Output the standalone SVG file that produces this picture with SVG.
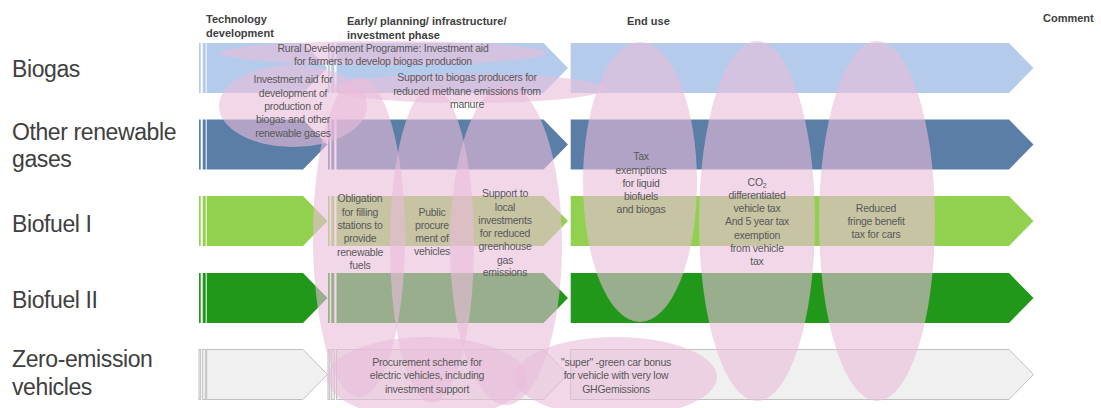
<svg xmlns="http://www.w3.org/2000/svg" xmlns:xlink="http://www.w3.org/1999/xlink" width="1101" height="408" viewBox="0 0 1101 408">
<style>
  .row-label { font-family: "Liberation Sans", Arial, sans-serif; font-size: 23px; fill: #404040; letter-spacing: -0.4px; }
  .hdr { font-family: "Liberation Sans", Arial, sans-serif; font-size: 11px; font-weight: bold; fill: #404040; }
  .txt { font-family: "Liberation Sans", Arial, sans-serif; font-size: 10.5px; fill: #595959; letter-spacing: -0.25px; text-anchor: middle; }
  .ell { fill: #e9bdda; opacity: 0.6; }
  .c-biogas { fill: #b5cbec; }
  .c-other { fill: #5a7ea6; }
  .c-bio1 { fill: #92d050; }
  .c-bio2 { fill: #22981b; }
  .c-zero { fill: #f0f0f0; stroke: #c0c0c0; stroke-width: 1; }
</style>
<defs>
  <g id="seg1"><rect x="199" y="0" width="1.7" height="50"/><rect x="202.7" y="0" width="3" height="50"/><path d="M206.7 0H303L327.5 25L303 50H206.7Z"/></g>
  <g id="seg2"><rect x="328" y="0" width="1.7" height="50"/><rect x="331.3" y="0" width="3" height="50"/><path d="M336.5 0H543.5L568 25L543.5 50H336.5Z"/></g>
  <g id="seg3"><path d="M570.7 0H1009L1033.5 25L1009 50H570.7Z"/></g>
</defs>
<rect width="1101" height="408" fill="#ffffff"/>

<g id="headers">
  <text class="hdr" x="206" y="23">Technology</text>
  <text class="hdr" x="206" y="36.5">development</text>
  <text class="hdr" x="347" y="25">Early/ planning/ infrastructure/</text>
  <text class="hdr" x="347" y="38.5">investment phase</text>
  <text class="hdr" x="627" y="25">End use</text>
  <text class="hdr" x="1043" y="22">Comment</text>
</g>

<g id="row-biogas">
  <text class="row-label" x="12" y="77">Biogas</text>
  <use href="#seg1" y="43" class="c-biogas"/>
  <use href="#seg2" y="43" class="c-biogas"/>
  <use href="#seg3" y="43" class="c-biogas"/>
</g>
<g id="row-other">
  <text class="row-label" x="12" y="140">Other renewable</text>
  <text class="row-label" x="12" y="167">gases</text>
  <use href="#seg1" y="119.5" class="c-other"/>
  <use href="#seg2" y="119.5" class="c-other"/>
  <use href="#seg3" y="119.5" class="c-other"/>
</g>
<g id="row-biofuel1">
  <text class="row-label" x="12" y="232">Biofuel I</text>
  <use href="#seg1" y="196" class="c-bio1"/>
  <use href="#seg2" y="196" class="c-bio1"/>
  <use href="#seg3" y="196" class="c-bio1"/>
</g>
<g id="row-biofuel2">
  <text class="row-label" x="12" y="308">Biofuel II</text>
  <use href="#seg1" y="273" class="c-bio2"/>
  <use href="#seg2" y="273" class="c-bio2"/>
  <use href="#seg3" y="273" class="c-bio2"/>
</g>
<g id="row-zero">
  <text class="row-label" x="12" y="367">Zero-emission</text>
  <text class="row-label" x="12" y="395">vehicles</text>
  <use href="#seg1" y="349.5" class="c-zero"/>
  <use href="#seg2" y="349.5" class="c-zero"/>
  <use href="#seg3" y="349.5" class="c-zero"/>
</g>

<g id="policy-shapes">
  <ellipse class="ell" cx="383" cy="53" rx="163" ry="12"/>
  <ellipse class="ell" cx="293" cy="106" rx="74" ry="41"/>
  <ellipse class="ell" cx="468" cy="88.5" rx="138" ry="14.5"/>
  <ellipse class="ell" cx="359" cy="237" rx="46" ry="160"/>
  <ellipse class="ell" cx="432" cy="245" rx="42" ry="158"/>
  <ellipse class="ell" cx="506" cy="245" rx="56" ry="160"/>
  <ellipse class="ell" cx="640" cy="182" rx="57" ry="140"/>
  <ellipse class="ell" cx="757" cy="221" rx="58" ry="180"/>
  <ellipse class="ell" cx="877" cy="221" rx="58" ry="180"/>
  <ellipse class="ell" cx="427" cy="378" rx="100" ry="41"/>
  <ellipse class="ell" cx="616" cy="377" rx="101" ry="40"/>
</g>

<g id="p-rural">
  <text class="txt" x="383" y="52">Rural Development Programme: Investment aid</text>
  <text class="txt" x="383" y="65">for farmers to develop biogas production</text>
</g>
<g id="p-investment-aid">
  <text class="txt" x="293" y="83">Investment aid for</text>
  <text class="txt" x="293" y="96.5">development of</text>
  <text class="txt" x="293" y="110">production of</text>
  <text class="txt" x="293" y="123">biogas and other</text>
  <text class="txt" x="293" y="136.5">renewable gases</text>
</g>
<g id="p-methane">
  <text class="txt" x="467" y="81">Support to biogas producers for</text>
  <text class="txt" x="467" y="94.5">reduced methane emissions from</text>
  <text class="txt" x="467" y="107.5">manure</text>
</g>
<g id="p-obligation">
  <text class="txt" x="360" y="202">Obligation</text>
  <text class="txt" x="360" y="215.5">for filling</text>
  <text class="txt" x="360" y="229">stations to</text>
  <text class="txt" x="360" y="242">provide</text>
  <text class="txt" x="360" y="255.5">renewable</text>
  <text class="txt" x="360" y="268.5">fuels</text>
</g>
<g id="p-public">
  <text class="txt" x="432" y="216">Public</text>
  <text class="txt" x="432" y="229">procure</text>
  <text class="txt" x="432" y="242">ment of</text>
  <text class="txt" x="432" y="255">vehicles</text>
</g>
<g id="p-local">
  <text class="txt" x="505" y="197">Support to</text>
  <text class="txt" x="505" y="210.5">local</text>
  <text class="txt" x="505" y="224">investments</text>
  <text class="txt" x="505" y="237">for reduced</text>
  <text class="txt" x="505" y="250">greenhouse</text>
  <text class="txt" x="505" y="263.5">gas</text>
  <text class="txt" x="505" y="276">emissions</text>
</g>
<g id="p-tax-exemption">
  <text class="txt" x="641" y="160">Tax</text>
  <text class="txt" x="641" y="174">exemptions</text>
  <text class="txt" x="641" y="187">for liquid</text>
  <text class="txt" x="641" y="200">biofuels</text>
  <text class="txt" x="641" y="213">and biogas</text>
</g>
<g id="p-co2">
  <text class="txt" x="757" y="186">CO<tspan font-size="7" dy="2">2</tspan></text>
  <text class="txt" x="757" y="199">differentiated</text>
  <text class="txt" x="757" y="212">vehicle tax</text>
  <text class="txt" x="757" y="225">And 5 year tax</text>
  <text class="txt" x="757" y="238.5">exemption</text>
  <text class="txt" x="757" y="252">from vehicle</text>
  <text class="txt" x="757" y="265">tax</text>
</g>
<g id="p-fringe">
  <text class="txt" x="876" y="212">Reduced</text>
  <text class="txt" x="876" y="225">fringe benefit</text>
  <text class="txt" x="876" y="238">tax for cars</text>
</g>
<g id="p-procurement">
  <text class="txt" x="427" y="366">Procurement scheme for</text>
  <text class="txt" x="427" y="379">electric vehicles, including</text>
  <text class="txt" x="427" y="393">investment support</text>
</g>
<g id="p-super">
  <text class="txt" x="616" y="366">"super" -green car bonus</text>
  <text class="txt" x="616" y="379">for vehicle with very low</text>
  <text class="txt" x="616" y="393">GHGemissions</text>
</g>
</svg>
